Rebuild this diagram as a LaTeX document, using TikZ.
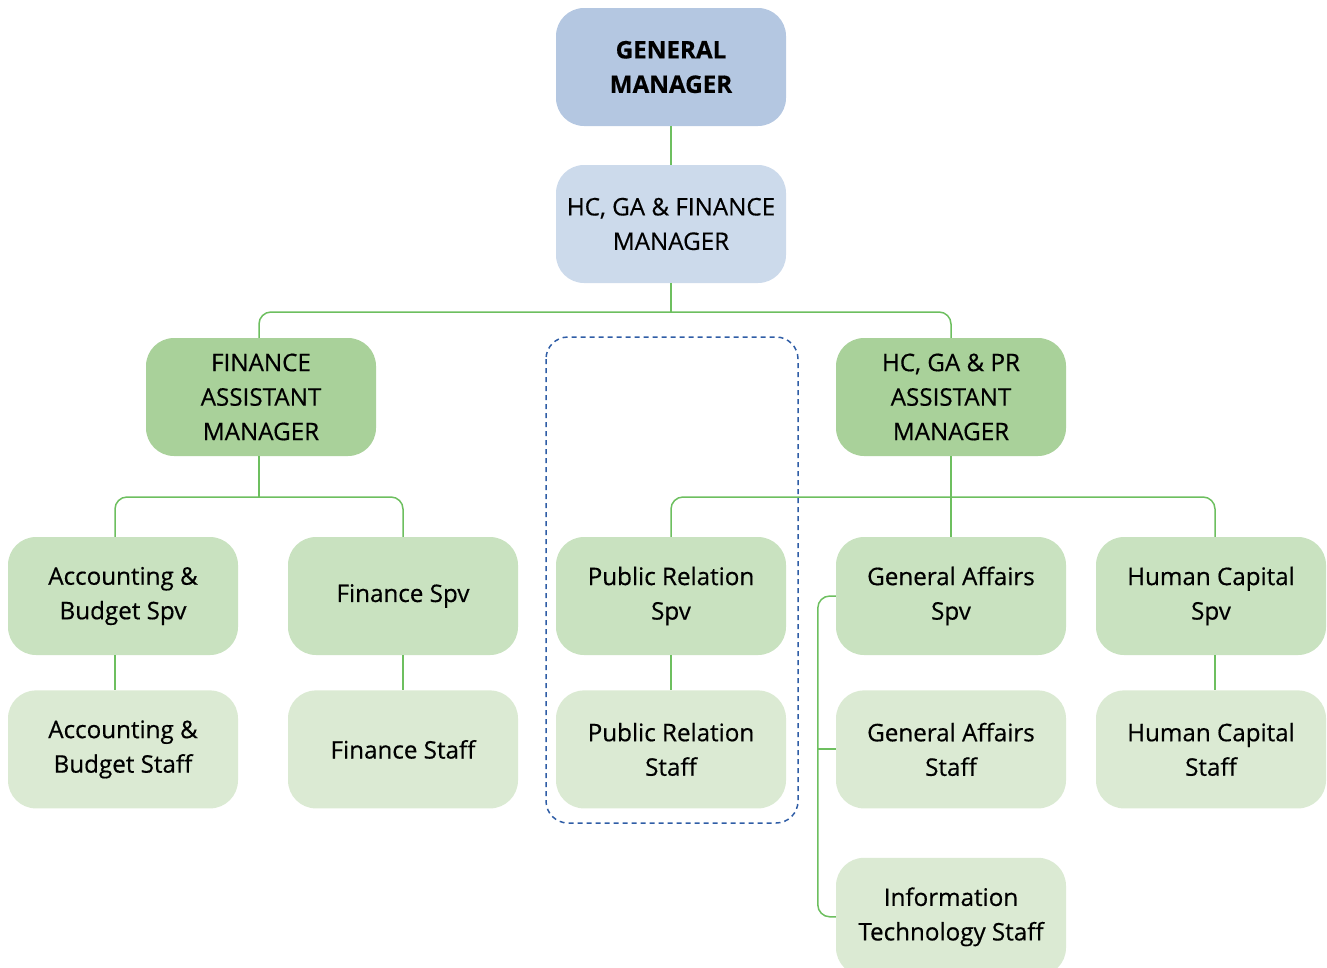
\documentclass[tikz,border=0pt]{standalone}
\usepackage{fontspec}
\setmainfont{Open Sans}[FakeBold=0.5]
\usetikzlibrary{positioning}

\definecolor{gmblue}{HTML}{B4C7E1}
\definecolor{mgrblue}{HTML}{CCDAEB}
\definecolor{amgreen}{HTML}{A9D19A}
\definecolor{spvgreen}{HTML}{C9E2C0}
\definecolor{staffgreen}{HTML}{DBEAD3}
\definecolor{linkgreen}{HTML}{6DBF5F}
\definecolor{groupblue}{HTML}{2F5DA6}

\begin{document}
\begin{tikzpicture}[
  x=1pt,y=-1pt,
  every node/.style={font=\fontsize{24.2}{34.5}\selectfont},
  box/.style={rounded corners=28pt,minimum width=230pt,minimum height=118pt,align=center,inner sep=0pt},
  gm/.style={box,fill=gmblue,font=\fontsize{24.2}{34.5}\selectfont\bfseries},
  mgr/.style={box,fill=mgrblue},
  am/.style={box,fill=amgreen},
  spv/.style={box,fill=spvgreen},
  staff/.style={box,fill=staffgreen},
  link/.style={draw=linkgreen,line width=1.5pt,rounded corners=12pt},
  group/.style={draw=groupblue,line width=1.5pt,dash pattern=on 5pt off 4pt,rounded corners=22pt}
]
  \useasboundingbox (0,0) rectangle (1327,967);

  % top of the chart
  \node[gm] (gm) at (671,67) {GENERAL\\MANAGER};
  \node[mgr] (mgr) at (671,224) {HC, GA \& FINANCE\\MANAGER};

  % assistant managers
  \node[am] (finam) at (261,397) {FINANCE\\ASSISTANT\\MANAGER};
  \node[am] (hcam) at (951,397) {HC, GA \& PR\\ASSISTANT\\MANAGER};

  % supervisors
  \node[spv] (accspv) at (123,596) {Accounting \&\\Budget Spv};
  \node[spv] (finspv) at (403,596) {Finance Spv};
  \node[spv] (prspv) at (671,596) {Public Relation\\Spv};
  \node[spv] (gaspv) at (951,596) {General Affairs\\Spv};
  \node[spv] (hcspv) at (1211,596) {Human Capital\\Spv};

  % staff
  \node[staff,below=35pt of accspv] (accstaff) {Accounting \&\\Budget Staff};
  \node[staff,below=35pt of finspv] (finstaff) {Finance Staff};
  \node[staff,below=35pt of prspv] (prstaff) {Public Relation\\Staff};
  \node[staff,below=35pt of gaspv] (gastaff) {General Affairs\\Staff};
  \node[staff,below=35pt of hcspv] (hcstaff) {Human Capital\\Staff};
  \node[staff,below=49pt of gastaff] (itstaff) {Information\\Technology Staff};

  % connectors
  \coordinate (busa) at (671,312);
  \coordinate (busb) at (259,497);
  \coordinate (busc) at (951,497);
  \draw[link] (gm) -- (mgr);
  \draw[link] (mgr) -- (busa);
  \draw[link] (busa) -| ([xshift=-2pt]finam.north);
  \draw[link] (busa) -| (hcam);
  \draw[link] ([xshift=-2pt]finam.south) -- (busb);
  \draw[link] (busb) -| ([xshift=-8pt]accspv.north);
  \draw[link] (busb) -| (finspv);
  \draw[link] (hcam) -- (gaspv);
  \draw[link] (busc) -| (prspv);
  \draw[link] (busc) -| ([xshift=4pt]hcspv.north);
  \draw[link] ([xshift=-8pt]accspv.south) -- ([xshift=-8pt]accstaff.north);
  \draw[link] (finspv) -- (finstaff);
  \draw[link] (prspv) -- (prstaff);
  \draw[link] ([xshift=4pt]hcspv.south) -- ([xshift=4pt]hcstaff.north);
  \draw[link] (gaspv.west) -- ++(-18,0) |- (itstaff.west);
  \draw[link] ([yshift=0.5pt]gastaff.west) -- ++(-18,0);

  % public relation group
  \draw[group] (546,337) rectangle (798,823);
\end{tikzpicture}
\end{document}
